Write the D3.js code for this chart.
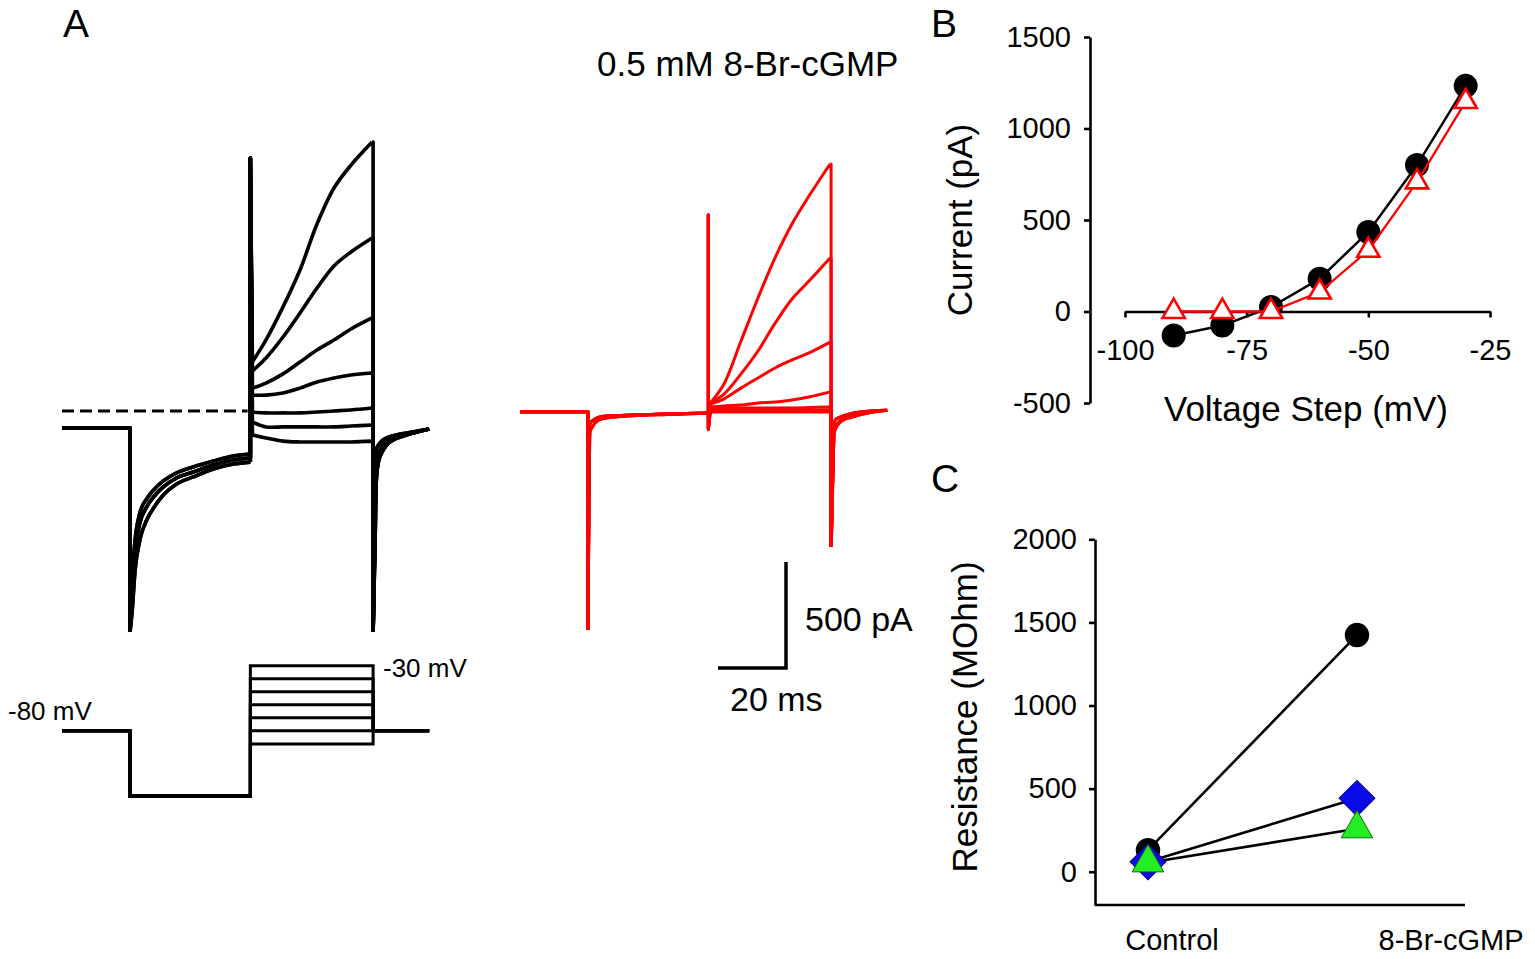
<!DOCTYPE html>
<html>
<head>
<meta charset="utf-8">
<script src="https://cdn.jsdelivr.net/npm/d3@7"></script>
<style>
  body { margin: 0; background: #fff; }
  text { font-family: "Liberation Sans", Arial, sans-serif; fill: #000; }
</style>
</head>
<body>
<div id="fig"></div>
<script>
// ---------------- data ----------------
// voltage steps of the protocol (mV), holding and pre-pulse levels
const stepMv = [-30, -40, -50, -60, -70, -80, -90];
const holdMv = -80;
const prePulseMv = -130;
// protocol timing (ms)
const protoT = [0, 20, 55.4, 91.5, 108];

// sample times during the depolarising step (ms)
const stepT = [56, 60, 65, 70, 75, 80, 85, 91.2];

// control traces (pA), one row per voltage step, read at stepT
const ctrlSteps = [
  [231, 335, 491, 665, 882, 1052, 1160, 1269],
  [189, 250, 349, 462, 580, 684, 750, 816],
  [108, 132, 175, 231, 288, 335, 387, 439],
  [75, 75, 85, 108, 137, 156, 170, 179],
  [-5, -9, -9, -9, -5, 0, 5, 14],
  [-52, -75, -75, -75, -75, -75, -71, -66],
  [-113, -127, -142, -146, -146, -146, -146, -142]
];
// control: relaxation during the -130 mV pre-pulse
const ctrlHypT = [20.6, 21.5, 22.9, 24.9, 26.9, 29.8, 33.7, 38.6, 44.5, 50.4, 55.4];
const ctrlHyp = [
  [-800, -608, -481, -415, -373, -330, -292, -264, -236, -212, -203],
  [-850, -656, -528, -453, -406, -358, -316, -288, -255, -231, -222],
  [-950, -750, -608, -514, -458, -396, -344, -311, -274, -250, -241]
];
const ctrlHypPick = [2, 2, 1, 1, 1, 0, 0];
// control: tail currents after the step, [t, pA]
const ctrlTails = [
  [[92.1, -600], [92.4, -340], [93.0, -245], [94.0, -198], [95.5, -160], [97.4, -137], [100.4, -118], [103.3, -104], [108, -85]],
  [[92.0, -600], [92.4, -245], [93.5, -184], [95.5, -145], [98.4, -121], [102.4, -105], [108, -85]],
  [[92.0, -600], [92.4, -184], [93.5, -151], [95.5, -127], [98.4, -113], [102.2, -102], [108, -85]]
];
const ctrlTailPick = [0, 0, 0, 1, 1, 2, 2];
const ctrlHold = -80, ctrlPeakNeg = -1042, ctrlPeakPos = 1193;

// 8-Br-cGMP traces (pA), read at stepT
const cgmpSteps = [
  [38, 127, 330, 533, 722, 882, 1014, 1165],
  [38, 80, 175, 283, 413, 528, 613, 722],
  [33, 57, 108, 156, 203, 241, 274, 325],
  [19, 24, 28, 38, 42, 52, 66, 90],
  [14, 14, 14, 14, 14, 14, 16, 19],
  [5, 5, 5, 5, 5, 5, 5, 5],
  [-5, -5, -5, -5, -5, -5, -5, -5]
];
const cgmpHypT = [20.3, 20.6, 21.5, 23.5, 28, 33.2, 43.2, 55.4];
const cgmpHyp = [
  [-300, -57, -45, -28, -22, -19, -14, -9],
  [-400, -99, -70, -40, -28, -22, -16, -10]
];
const cgmpHypPick = [1, 1, 0, 0, 0, 0, 0];
const cgmpTails = [
  [[92.0, -300], [92.1, -121], [93.1, -74], [95.1, -42], [98, -27], [102, -11], [108, 3]],
  [[92.0, -300], [92.4, -80], [93.6, -55], [95.5, -35], [98.5, -20], [103, -5], [108, 3]],
  [[92.0, -300], [92.6, -45], [94, -30], [96, -18], [100, -5], [108, 3]]
];
const cgmpTailPick = [0, 0, 1, 1, 2, 2, 2];
const cgmpHold = -3, cgmpPeakNeg = -1033, cgmpPeakPos = 925, cgmpDip = -85;

// panel B: I-V relation
const ivVoltage = [-90, -80, -70, -60, -50, -40, -30];
const ivControl = [-131, -77, 24, 179, 435, 800, 1233];
const ivCgmp = [0, 0, 0, 106, 334, 708, 1147];
const ivTicksX = [-100, -75, -50, -25];
const ivTicksY = [-500, 0, 500, 1000, 1500];

// panel C: input resistance
const resCats = ["Control", "8-Br-cGMP"];
const resBlack = [130, 1424];
const resBlue = [60, 442];
const resGreen = [54, 259];
const resTicksY = [0, 500, 1000, 1500, 2000];

// ---------------- drawing ----------------
const svg = d3.select("#fig").append("svg")
  .attr("width", 1535)
  .attr("height", 959);

svg.append("rect").attr("width", 1535).attr("height", 959).attr("fill", "#fff");

// panel A scales: both recordings share current and time calibration
const tCtrl = d3.scaleLinear().domain([0, 108]).range([62, 429.2]);
const tCgmp = d3.scaleLinear().domain([0, 108]).range([520, 887.2]);
const iA = d3.scaleLinear().domain([0, 500]).range([411, 305]);

const smooth = d3.curveCatmullRom.alpha(0.5);

const piecePath = (pieces, xs) => pieces
  .map(p => d3.line().x(d => xs(d[0])).y(d => iA(d[1])).curve(p.curve)(p.pts))
  .join("");

const buildTrace = (steps, i, o) => {
  const hyp = o.hyp[o.hypPick[i]];
  const hypPts = o.hypT.map((t, k) => [t, hyp[k]]);
  const stepPts = stepT.map((t, k) => [t, steps[i][k]]);
  const last = stepPts[stepPts.length - 1];
  const tail = o.tails[o.tailPick[i]];
  const spike = o.dip === undefined
    ? [hypPts[hypPts.length - 1], [protoT[2], o.peakPos], stepPts[0]]
    : [hypPts[hypPts.length - 1], [protoT[2], o.peakPos], [protoT[2], o.dip], stepPts[0]];
  return [
    { curve: d3.curveLinear, pts: [[protoT[0], o.hold], [protoT[1], o.hold], [protoT[1], o.peakNeg]] },
    { curve: d3.curveMonotoneX, pts: [[protoT[1], o.peakNeg], ...hypPts] },
    { curve: d3.curveLinear, pts: spike },
    { curve: smooth, pts: stepPts },
    { curve: d3.curveLinear, pts: [last, [protoT[3], last[1]], [protoT[3], o.tailNeg]] },
    { curve: d3.curveMonotoneX, pts: [[protoT[3], o.tailNeg], ...tail] }
  ];
};

const ctrlOpts = { hyp: ctrlHyp, hypT: ctrlHypT, hypPick: ctrlHypPick, tails: ctrlTails,
  tailPick: ctrlTailPick, hold: ctrlHold, peakNeg: ctrlPeakNeg, peakPos: ctrlPeakPos, tailNeg: ctrlPeakNeg };
const cgmpOpts = { hyp: cgmpHyp, hypT: cgmpHypT, hypPick: cgmpHypPick, tails: cgmpTails,
  tailPick: cgmpTailPick, hold: cgmpHold, peakNeg: cgmpPeakNeg, peakPos: cgmpPeakPos,
  dip: cgmpDip, tailNeg: -641 };

// dashed zero-current line
svg.append("path")
  .attr("d", d3.line().x(d => tCtrl(d[0])).y(d => iA(d[1]))([[0, 0], [54.6, 0]]))
  .attr("fill", "none")
  .attr("stroke", "#000")
  .attr("stroke-width", 3)
  .attr("stroke-dasharray", "12,6");

svg.append("g").selectAll("path")
  .data(stepMv)
  .join("path")
    .attr("d", (d, i) => piecePath(buildTrace(ctrlSteps, i, ctrlOpts), tCtrl))
    .attr("fill", "none")
    .attr("stroke", "#000")
    .attr("stroke-width", 3.6)
    .attr("stroke-linejoin", "round");

svg.append("g").selectAll("path")
  .data(stepMv)
  .join("path")
    .attr("d", (d, i) => piecePath(buildTrace(cgmpSteps, i, cgmpOpts), tCgmp))
    .attr("fill", "none")
    .attr("stroke", "#ff0000")
    .attr("stroke-width", 3)
    .attr("stroke-linejoin", "round");

// voltage protocol
const vP = d3.scaleLinear().domain([-30, -130]).range([665.7, 796]);
const protoLine = d3.line().x(d => tCtrl(d[0])).y(d => vP(d[1]));
svg.append("g").selectAll("path")
  .data(stepMv)
  .join("path")
    .attr("d", v => protoLine([
      [protoT[0], holdMv], [protoT[1], holdMv], [protoT[1], prePulseMv], [protoT[2], prePulseMv],
      [protoT[2], v], [protoT[3], v], [protoT[3], holdMv], [protoT[4], holdMv]
    ]))
    .attr("fill", "none")
    .attr("stroke", "#000")
    .attr("stroke-width", 3);

svg.append("text").attr("x", 8).attr("y", 720).attr("font-size", 26).text("-80 mV");
svg.append("text").attr("x", 383).attr("y", 677).attr("font-size", 26).text("-30 mV");

// scale bar
const barX = 786, barY = 668;
const barW = tCgmp(20) - tCgmp(0), barH = iA(0) - iA(500);
svg.append("path")
  .attr("d", `M${barX - barW},${barY}H${barX}V${barY - barH}`)
  .attr("fill", "none")
  .attr("stroke", "#000")
  .attr("stroke-width", 3.5);
svg.append("text").attr("x", 805).attr("y", 631).attr("font-size", 34).text("500 pA");
svg.append("text").attr("x", 730).attr("y", 711).attr("font-size", 34).text("20 ms");

svg.append("text").attr("x", 597).attr("y", 76).attr("font-size", 35).text("0.5 mM 8-Br-cGMP");

// panel letters
svg.append("text").attr("x", 63).attr("y", 37).attr("font-size", 39).text("A");
svg.append("text").attr("x", 931).attr("y", 37).attr("font-size", 39).text("B");
svg.append("text").attr("x", 931).attr("y", 492).attr("font-size", 39).text("C");

const styleAxis = g => {
  g.attr("font-family", "Liberation Sans, Arial, sans-serif").attr("font-size", 29);
  g.selectAll("path, line").attr("stroke", "#000").attr("stroke-width", 2.6);
};
const plain = d => String(d);

// ---- panel B ----
const xB = d3.scaleLinear().domain([-100, -25]).range([1125, 1490]);
const yB = d3.scaleLinear().domain([-500, 1500]).range([403, 37]);

svg.append("g")
  .attr("transform", "translate(1090,0)")
  .call(d3.axisLeft(yB).tickValues(ivTicksY).tickFormat(plain).tickSize(6).tickSizeOuter(0).tickPadding(13))
  .call(styleAxis);

svg.append("g")
  .attr("transform", `translate(0,${yB(0)})`)
  .call(d3.axisBottom(xB).tickValues(ivTicksX).tickFormat(plain).tickSize(6).tickSizeOuter(0).tickPadding(22))
  .call(styleAxis);

svg.append("text")
  .attr("transform", "translate(972,220) rotate(-90)")
  .attr("text-anchor", "middle")
  .attr("font-size", 35)
  .text("Current (pA)");

svg.append("text")
  .attr("x", 1306).attr("y", 421)
  .attr("text-anchor", "middle")
  .attr("font-size", 35)
  .text("Voltage Step (mV)");

const ivLine = d3.line().x(d => xB(d[0])).y(d => yB(d[1]));
const ivCtrlPts = ivVoltage.map((v, k) => [v, ivControl[k]]);
const ivCgmpPts = ivVoltage.map((v, k) => [v, ivCgmp[k]]);

svg.append("path").attr("d", ivLine(ivCtrlPts))
  .attr("fill", "none").attr("stroke", "#000").attr("stroke-width", 2.5);
svg.append("g").selectAll("circle")
  .data(ivCtrlPts)
  .join("circle")
    .attr("cx", d => xB(d[0]))
    .attr("cy", d => yB(d[1]))
    .attr("r", 12)
    .attr("fill", "#000");

svg.append("path").attr("d", ivLine(ivCgmpPts))
  .attr("fill", "none").attr("stroke", "#ff0000").attr("stroke-width", 2.3);
svg.append("g").selectAll("path")
  .data(ivCgmpPts)
  .join("path")
    .attr("transform", d => `translate(${xB(d[0])},${yB(d[1])})`)
    .attr("d", d3.symbol(d3.symbolTriangle, 215))
    .attr("fill", "#fff")
    .attr("stroke", "#ff0000")
    .attr("stroke-width", 2.6);

// ---- panel C ----
const xC = d3.scalePoint().domain(resCats).range([1148, 1357]);
const yC = d3.scaleLinear().domain([-200, 2000]).range([905, 539.3]);

svg.append("g")
  .attr("transform", "translate(1095,0)")
  .call(d3.axisLeft(yC).tickValues(resTicksY).tickFormat(plain).tickSize(6).tickSizeOuter(0).tickPadding(12))
  .call(styleAxis);

svg.append("line")
  .attr("x1", 1095).attr("x2", 1465)
  .attr("y1", yC(-200)).attr("y2", yC(-200))
  .attr("stroke", "#000").attr("stroke-width", 2.6);

const catLabelShift = [24, 94];
svg.append("g").selectAll("text")
  .data(resCats)
  .join("text")
    .attr("x", (d, k) => xC(d) + catLabelShift[k])
    .attr("y", 950)
    .attr("text-anchor", "middle")
    .attr("font-size", 29)
    .text(d => d);

svg.append("text")
  .attr("transform", "translate(977,717) rotate(-90)")
  .attr("text-anchor", "middle")
  .attr("font-size", 35)
  .text("Resistance (MOhm)");

const resSeries = [
  { vals: resBlack, shape: "circle" },
  { vals: resBlue, shape: "diamond" },
  { vals: resGreen, shape: "triangle" }
];
const resLine = d3.line().x(d => xC(d[0])).y(d => yC(d[1]));

svg.append("g").selectAll("path")
  .data(resSeries)
  .join("path")
    .attr("d", s => resLine(resCats.map((c, k) => [c, s.vals[k]])))
    .attr("fill", "none")
    .attr("stroke", "#000")
    .attr("stroke-width", 2.6);

const markerFor = {
  circle: { d: d3.symbol(d3.symbolCircle, 470)(), fill: "#000", stroke: "none", rot: 0 },
  diamond: { d: d3.symbol(d3.symbolSquare, 640)(), fill: "#0a0ae8", stroke: "#00008a", rot: 45 },
  triangle: { d: d3.symbol(d3.symbolTriangle, 430)(), fill: "#22ee22", stroke: "#0b6e0b", rot: 0 }
};

resSeries.forEach(s => {
  const m = markerFor[s.shape];
  svg.append("g").selectAll("path")
    .data(resCats.map((c, k) => [c, s.vals[k]]))
    .join("path")
      .attr("transform", d => `translate(${xC(d[0])},${yC(d[1])}) rotate(${m.rot})`)
      .attr("d", m.d)
      .attr("fill", m.fill)
      .attr("stroke", m.stroke)
      .attr("stroke-width", 1);
});
</script>
</body>
</html>
